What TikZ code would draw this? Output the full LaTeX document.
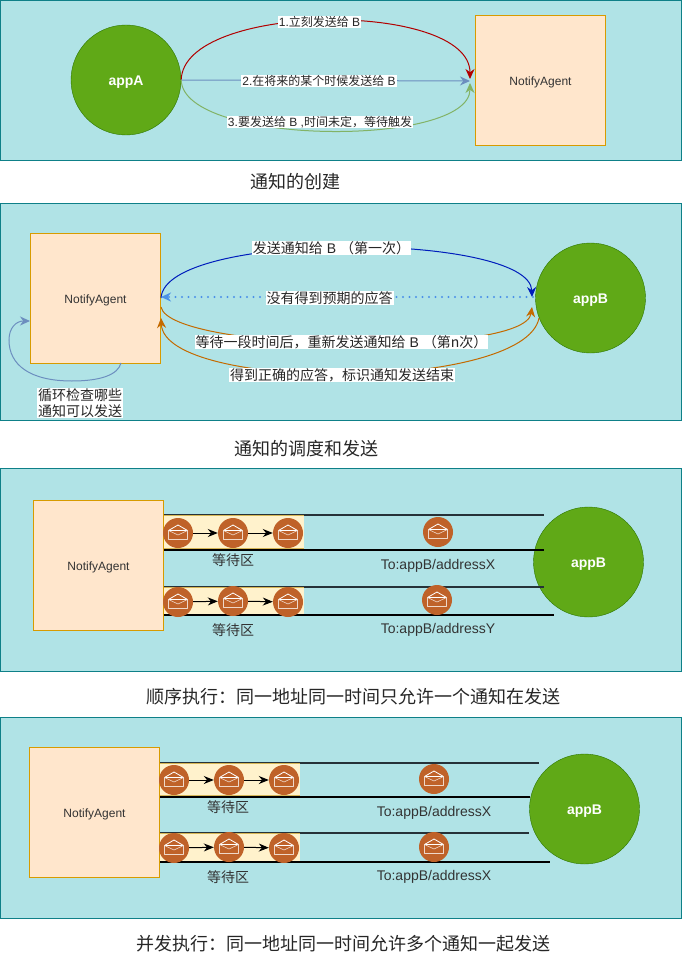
\documentclass[tikz,border=0pt]{standalone}
\usepackage{fontspec}
\setmainfont{Liberation Sans}
\newfontfamily\cjk{Noto Sans CJK SC}
\usetikzlibrary{arrows.meta}
\definecolor{panelfill}{HTML}{B0E3E6}
\definecolor{paneldraw}{HTML}{0E8088}
\definecolor{agentfill}{HTML}{FFE6CC}
\definecolor{agentdraw}{HTML}{D79B00}
\definecolor{appfill}{HTML}{60A917}
\definecolor{appdraw}{HTML}{2D7600}
\definecolor{mailfill}{HTML}{BF6229}
\definecolor{bandfill}{HTML}{FFF2CC}
\definecolor{banddraw}{HTML}{D6B656}
\definecolor{redline}{HTML}{B20000}
\definecolor{steelline}{HTML}{6C8EBF}
\definecolor{greenline}{HTML}{82B366}
\definecolor{blueline}{HTML}{001DBC}
\definecolor{dotline}{HTML}{4A90E8}
\definecolor{orangeline}{HTML}{C46A00}
\definecolor{chanline}{HTML}{263238}
\newcommand{\zh}[1]{{\cjk #1}}
\tikzset{
    panel/.style={draw=paneldraw,fill=panelfill,line width=.8pt},
    agent/.style={draw=agentdraw,fill=agentfill,line width=1pt,minimum width=130pt,minimum height=130pt,inner sep=0pt,font=\fontsize{12}{14}\selectfont,text=black!80,text height=9.6pt,text depth=0pt},
    appnode/.style={circle,draw=appdraw,fill=appfill,minimum size=110pt,inner sep=0pt,text=white,font=\fontsize{14}{16}\bfseries\selectfont,text height=11.5pt,text depth=0pt},
    edgelabel/.style={fill=white,inner xsep=1pt,inner ysep=.5pt,font=\fontsize{12}{14}\selectfont,text=black!85},
    biglabel/.style={edgelabel,font=\fontsize{14}{16}\selectfont},
    flowline/.style={-{Stealth[length=10pt,width=9pt]},line width=1pt},
    chanlabel/.style={font=\fontsize{14}{16}\selectfont,text=black!80},
    title/.style={font=\fontsize{18}{21}\selectfont,text=black!85},
    band/.style={fill=bandfill},
    bandedge/.style={draw=banddraw,line width=.7pt},
    chan/.style={line width=1.8pt,draw=chanline},
    chanb/.style={line width=1.8pt,draw=black},
    queue/.style={-{Stealth[length=10pt,width=8pt]},line width=1pt,draw=black},
    mail/.style={circle,fill=mailfill,minimum size=30pt,inner sep=0pt,
        path picture={
            \draw[white,line width=.8pt,line join=round]
                (path picture bounding box.center)++(-9.5,-2.5) -- ++(9.5,-5.5) -- ++(9.5,5.5) -- cycle;
            \draw[white!75!mailfill,line width=.7pt,line join=round]
                (path picture bounding box.center)++(-9.5,-2.5) -- ++(0,9) -- ++(19,0) -- ++(0,-9);
            \draw[white!75!mailfill,line width=.6pt,line join=round]
                (path picture bounding box.center)++(-9.5,-2.5) -- ++(9.5,4.5) -- ++(9.5,-4.5);
        }},
}
\begin{document}
\begin{tikzpicture}[x=1pt,y=-1pt]
    \useasboundingbox (0,0) rectangle (681,960);

    % creation
    \draw[panel] (0,0) rectangle (681,160.5);
    \node[appnode] (appA) at (126,80) {appA};
    \node[agent] (agentA) at (540.5,80.5) {NotifyAgent};
    \coordinate (inA1) at (470,79);
    \coordinate (inA2) at (470,81);
    \coordinate (inA3) at (470,83);
    \draw[flowline,redline] (appA.east) .. controls (183,2) and (470,0) .. (inA1);
    \draw[flowline,steelline] (appA.east) -- (inA2);
    \draw[flowline,greenline] (appA.east) .. controls (183,146) and (470,148) .. (inA3);
    \node[edgelabel] (lblA1) at (319.5,22) {1.\zh{立刻发送给} B};
    \node[edgelabel] (lblA2) at (319,81) {2.\zh{在将来的某个时候发送给} B};
    \node[edgelabel] (lblA3) at (320,122) {3.\zh{要发送给} B ,\zh{时间未定，等待触发}};
    \node[title] (titleA) at (295,182) {\zh{通知的创建}};

    % dispatch
    \draw[panel] (0,203) rectangle (681,420);
    \node[agent] (agentB) at (95.5,298.5) {NotifyAgent};
    \node[appnode] (appB) at (590.5,298) {appB};
    \coordinate (outB1) at (161,298);
    \coordinate (inB1) at (532,297);
    \coordinate (outB2) at (533,297);
    \coordinate (inB2) at (161,297);
    \coordinate (outB3) at (161,307);
    \coordinate (inB3) at (532,307);
    \coordinate (outB4) at (539,318);
    \coordinate (inB4) at (161,318);
    \coordinate (outLoop) at (121,363);
    \coordinate (inLoop) at (30,321);
    \draw[flowline,blueline] (outB1) .. controls (165,230) and (530,232) .. (inB1);
    \draw[flowline,dotline,line width=2.4pt,line cap=round,dash pattern=on 0pt off 6.5pt] (outB2) -- (inB2);
    \draw[flowline,orangeline] (outB3) .. controls (170,352) and (525,358) .. (inB3);
    \draw[flowline,orangeline] (outB4) .. controls (525,392) and (165,392) .. (inB4);
    \draw[flowline,steelline] (outLoop) .. controls (118,375) and (100,381) .. (72,381) .. controls (30,381) and (9,365) .. (9,340) .. controls (9,328) and (16,321) .. (inLoop);
    \node[biglabel] (lblB1) at (331.5,248) {\zh{发送通知给} B \zh{（第一次）}};
    \node[biglabel] (lblB2) at (329.5,298) {\zh{没有得到预期的应答}};
    \node[biglabel] (lblB3) at (341.5,342) {\zh{等待一段时间后，重新发送通知给} B \zh{（第n次）}};
    \node[biglabel] (lblB4) at (342,375) {\zh{得到正确的应答，标识通知发送结束}};
    \node[biglabel,align=center,font=\fontsize{14}{16.5}\selectfont] (lblB5) at (80,403) {\zh{循环检查哪些}\\\zh{通知可以发送}};
    \node[title] (titleB) at (306,449) {\zh{通知的调度和发送}};

    % sequential
    \draw[panel] (0,468) rectangle (681,671);
    \node[agent] (agentC) at (98.5,565.5) {NotifyAgent};
    \node[appnode] (appC) at (588.5,562) {appB};
    \coordinate (c1a) at (agentC.east |- 0,515);
    \coordinate (c1b) at (544,515);
    \coordinate (c2a) at (agentC.east |- 0,550);
    \coordinate (c2b) at (544,550);
    \coordinate (c3a) at (agentC.east |- 0,587);
    \coordinate (c3b) at (544,587);
    \coordinate (c4a) at (agentC.east |- 0,615);
    \coordinate (c4b) at (554,615);
    \draw[chan] (c1a) -- (c1b);
    \draw[chanb] (c2a) -- (c2b);
    \draw[chan] (c3a) -- (c3b);
    \draw[chanb] (c4a) -- (c4b);
    \fill[band] (164,515) rectangle (304,549);
    \fill[band] (164,587) rectangle (304,614);
    \draw[bandedge] (164,515.4) -- (304,515.4);
    \draw[bandedge] (164,548.8) -- (304,548.8);
    \draw[bandedge] (164,587.4) -- (304,587.4);
    \node[mail] (mailC1) at (178,533) {};
    \node[mail] (mailC2) at (233,533) {};
    \node[mail] (mailC3) at (288,533) {};
    \node[mail] (mailC4) at (438,532) {};
    \node[mail] (mailC5) at (178,602) {};
    \node[mail] (mailC6) at (233,601) {};
    \node[mail] (mailC7) at (288,602) {};
    \node[mail] (mailC8) at (437,600) {};
    \draw[queue] (mailC1) -- (mailC2);
    \draw[queue] (mailC2) -- (mailC3);
    \draw[queue] (mailC5) -- (mailC6);
    \draw[queue] (mailC6) -- (mailC7);
    \node[chanlabel] (waitC1) at (233,560) {\zh{等待区}};
    \node[chanlabel] (waitC2) at (233,630) {\zh{等待区}};
    \node[chanlabel] (toC1) at (438,566) {To:appB/addressX};
    \node[chanlabel] (toC2) at (438,630) {To:appB/addressY};
    \node[title] (titleC) at (353,697) {\zh{顺序执行：同一地址同一时间只允许一个通知在发送}};

    % concurrent
    \draw[panel] (0,717) rectangle (681,918);
    \node[agent] (agentD) at (94.5,812.5) {NotifyAgent};
    \node[appnode] (appD) at (584.5,809) {appB};
    \coordinate (d1a) at (agentD.east |- 0,763);
    \coordinate (d1b) at (539,763);
    \coordinate (d2a) at (agentD.east |- 0,797);
    \coordinate (d2b) at (530,797);
    \coordinate (d3a) at (agentD.east |- 0,833);
    \coordinate (d3b) at (529,833);
    \coordinate (d4a) at (agentD.east |- 0,862);
    \coordinate (d4b) at (550,862);
    \draw[chan] (d1a) -- (d1b);
    \draw[chanb] (d2a) -- (d2b);
    \draw[chan] (d3a) -- (d3b);
    \draw[chanb] (d4a) -- (d4b);
    \fill[band] (160,763) rectangle (300,796);
    \fill[band] (160,833) rectangle (300,861);
    \draw[bandedge] (160,763.4) -- (300,763.4);
    \draw[bandedge] (160,795.8) -- (300,795.8);
    \draw[bandedge] (160,833.4) -- (300,833.4);
    \node[mail] (mailD1) at (174,780) {};
    \node[mail] (mailD2) at (229,780) {};
    \node[mail] (mailD3) at (284,780) {};
    \node[mail] (mailD4) at (434,779) {};
    \node[mail] (mailD5) at (174,848) {};
    \node[mail] (mailD6) at (229,847) {};
    \node[mail] (mailD7) at (284,848) {};
    \node[mail] (mailD8) at (434,847) {};
    \draw[queue] (mailD1) -- (mailD2);
    \draw[queue] (mailD2) -- (mailD3);
    \draw[queue] (mailD5) -- (mailD6);
    \draw[queue] (mailD6) -- (mailD7);
    \node[chanlabel] (waitD1) at (228,807) {\zh{等待区}};
    \node[chanlabel] (waitD2) at (228,877) {\zh{等待区}};
    \node[chanlabel] (toD1) at (434,813) {To:appB/addressX};
    \node[chanlabel] (toD2) at (434,877) {To:appB/addressX};
    \node[title] (titleD) at (343,944) {\zh{并发执行：同一地址同一时间允许多个通知一起发送}};
\end{tikzpicture}
\end{document}
